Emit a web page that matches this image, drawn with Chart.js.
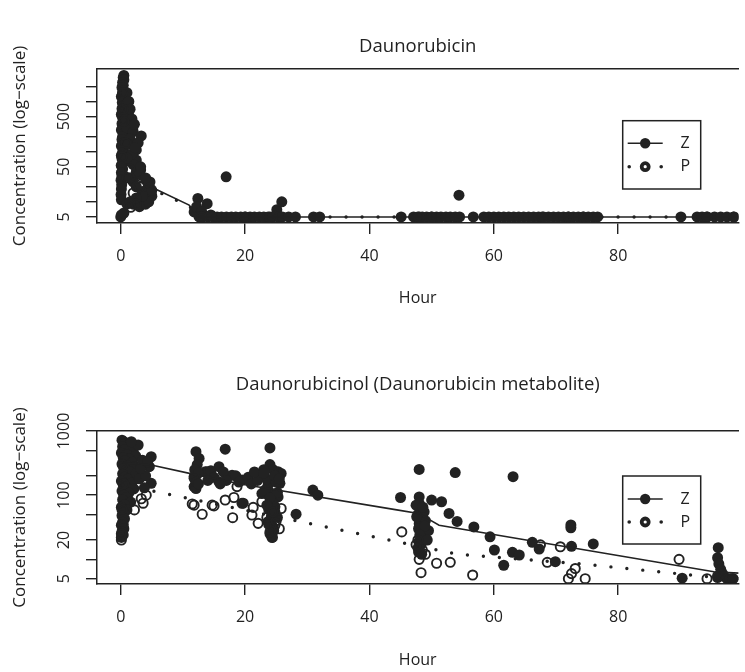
<!DOCTYPE html>
<html>
<head>
<meta charset="utf-8">
<script src="https://cdn.jsdelivr.net/npm/chart.js@4/dist/chart.umd.min.js"></script>
<style>
html, body { margin: 0; padding: 0; background: #fff; overflow: hidden; }
.panel { position: relative; width: 745px; height: 336px; }
</style>
</head>
<body>
<div class="panel"><canvas id="dauChart" width="745" height="336"></canvas></div>
<div class="panel"><canvas id="olChart" width="745" height="336"></canvas></div>
<script>
var ink = "#222222";
var fam = "'Open Sans', sans-serif";

// x axis
var hourTicks = [0, 20, 40, 60, 80];
var hourMin = -3.82, hourMax = 99.36;

// Daunorubicin (top)
var dauZHour = [0.5,0.4,0.5,0.3,0.4,0.2,0.5,0.3,0.1,0.4,0.25,0.5,0.2,0.6,0.1,0.3,0.5,0.2,0.4,0.1,
    0.6,0.3,0.2,0.5,0.1,0.4,0.3,0.1,0.2,0.5,0.08,0.3,0.1,0.2,0.05,0.15,0.1,0.05,0.1,0.0,0.1,
    1.0,1.2,0.8,1.5,1.0,2.0,1.5,3.3,1.2,2.5,2.5,1.8,3.2,2.0,1.0,3.0,4.0,2.5,4.8,4.5,
    4.9,3.5,2.0,1.5,3.0,4.0,2.5,5.0,1.0,0.5,
    1.0,1.3,1.5,1.8,2.2,2.8,2.3,2.0,3.0,4.0,4.5,3.5,2.5,1.5,5.0,4.7,4.0,3.2,
    11.8,12.4,13.9,12.2,13.0,14.5,16.95,25.1,25.9,54.4,
    12.6,13.2,14,14.8,15.5,16.2,17,17.8,18.5,19.3,20,20.8,21.5,22.3,23,23.7,24.5,25.3,26,27,28.1,31,32,
    45.1,47.1,47.8,48.5,49.2,50,50.8,51.5,52.3,53,53.8,54.5,56.7,58.4,59.2,60,60.8,61.6,62.4,63.2,64,64.8,
    65.6,66.4,67.2,68,68.8,69.6,70.4,71.2,72,72.8,73.6,74.4,75.2,76,76.7,90.1,92.7,93.5,94.3,95.5,96.5,97.5,98.6];
var dauZConc = [3300,3000,2700,2400,2100,1900,1650,1450,1250,1100,950,830,720,630,550,480,420,360,310,270,
    235,200,175,150,130,112,97,84,72,62,53,45,38,32,27,22,18,14,11,5,5.5,
    900,600,450,350,300,250,180,206,140,108,68,90,43,55,75,35,28,40,18,22,
    15,16,25,30,12,11,20,13,9,6,
    1500,1000,700,450,350,150,120,9,8,9,10,13,12,10,17,25,30,50,
    6.3,11.7,9.2,8,6.5,5.5,31.5,7,10,13.6,
    5,5,5,5,5,5,5,5,5,5,5,5,5,5,5,5,5,5,5,5,5,5,5,
    5,5,5,5,5,5,5,5,5,5,5,5,5,5,5,5,5,5,5,5,5,5,
    5,5,5,5,5,5,5,5,5,5,5,5,5,5,5,5,5,5,5,5,5,5,5];
var dauPHour = [1.6,0.3,0.5,0.2,1.0,2.0,0.8,3.0,2.5,0.4,1.5,13.0,20.0,24.0,48.0,50.0,67.8,72.0,74.4,94.3,98.6];
var dauPConc = [7.8,1500,400,80,30,15,150,20,9,700,45,5,5,5,5,5,5,5,5,5,5];
var dauZFitHour = [2, 5.4, 11, 12.5, 99.4];
var dauZFitConc = [30, 18.5, 8.6, 5, 5];
var dauPFitHour = [2, 5.4, 11, 12.5, 99.4];
var dauPFitConc = [28, 17, 8.3, 5, 5];
var dauTicks = [5, 10, 20, 50, 100, 200, 500, 1000, 2000];
var dauLabels = [5, 50, 500];

// Daunorubicinol (bottom)
var olZHour = [0.2,0.5,0.8,1.2,0.3,1.6,0.6,2.0,0.1,1.0, 2.4,0.4,1.4,0.7,1.9,0.2,1.1,2.2,0.5,0.9,
    1.6,0.3,2.5,0.6,1.2,0.1,1.8,0.4,0.8,2.1, 0.2,1.3,0.5,0.9,0.3,1.6,0.6,0.1,1.0,0.4,
    0.2,0.6,0.3,0.1,0.5,0.2,0.4,0.1,
    2.8,4.9,3.5,4.6,2.5,4.9,3.0,1.7,4.0,3.2,4.3,3.8,
    12.1,12.6,11.8,13.6,11.8,11.8,12.1,13.9,15.8,17.9,15.8,16.8,19.5,22.7,24.0,25.3,25.8,25.6,23.7,22.7,
    25.3,24.8,19.7,28.2,24.3,23.7,24.3,30.9,31.7,24.0,24.5,23.5,25.0,24.0,24.5,23.8,24.2,24.6,24.0,24.4,
    12.3,11.9,12.5,12.2,12.5,14.5,15.0,16.5,17.0,16.0,14.0,18.5,19.0,20.5,21.0,22.0,23.0,21.5,
    23.0,24.8,25.5,23.2,25.2,24.0,23.5,24.8,25.2,23.8,24.6,
    48.0,53.8,63.1,45.0,48.0,50.0,51.6,52.8,54.1,56.8,59.4,60.1,61.6,63.0,64.1,66.2,67.3,69.9,72.4,72.4,
    72.5,76.0,90.3,48.0,48.2,47.8,48.3,48.0,47.9,48.2,48.5,48.0,48.3,47.8,49.0,49.5,48.8,47.5,96.1,96.0,
    96.2,96.5,96.8,97.0,97.5,98.0,98.5,96.0,
    48.6,47.6,48.9,48.1,49.3,47.9,48.4];
var olZConc = [720,680,640,600,570,540,510,480,455,430, 410,385,365,345,325,305,290,275,260,245,
    230,215,200,190,178,166,155,145,135,125, 116,108,100,92,85,78,71,65,59,53,
    48,43,38,34,30,27,24,22,
    605,397,350,278,220,153,180,680,200,260,330,130,
    477,374,195,232,136,183,127,232,278,205,162,520,172,194,545,232,218,153,143,106,
    94,66,75,50.5,49.3,38.6,34,120,100,300,250,180,160,110,75,60,45,30,25,22,
    300,250,220,160,150,240,190,230,170,150,170,200,160,190,150,170,250,230,
    220,200,180,120,110,90,70,55,45,35,28,
    252,225,194,92,94,84,79,52,39,32,22.5,14,8.1,12.9,11.7,18.4,14.5,9.2,34.3,31,
    16,17.4,5.1,75,60,50,42,36,30,26,22,19,17,15,40,28,55,70,15.2,10.6,
    8.5,7,6,5.5,5,5,5,5.2,
    65,46,33,24,20,13,12];
var olPHour = [0.1,4.1,3.6,2.2,3.3,0.3,0.5,0.2,0.4,0.1,
    11.8,13.1,15.0,16.8,18.2,18.0,18.7,21.3,22.1,24.3,25.8,11.5,14.7,19.5,22.7,21.1,24.0,24.8,23.5,25.0,24.5,25.5,
    45.2,48.3,50.8,53.0,56.6,47.8,48.5,48.0,49.0,47.5,
    67.5,68.6,70.7,73.1,72.0,74.7,72.5,
    89.8,94.3,98.4,96.0];
var olPConc = [20,100,75,59,88,300,150,60,35,25,
    70,50.5,68,84,92,44.6,136,64.5,36.4,22.1,62,73,70,75,79,49,26.8,34,45,40,55,30,
    26.8,6.2,8.7,9,5.7,20,14,10,12,17,
    16.8,9,15.7,7.2,5,5,6,
    10,5,5,5.5];
var olZFitHour = [0.3, 4.9, 11.8, 19.5, 44.4, 47.9, 51.2, 95.4, 99.4];
var olZFitConc = [320, 295, 211, 148, 59, 52, 34, 6.4, 6.1];
var olPFitHour = [0.3, 5.8, 54, 74.6, 93.3, 99.4];
var olPFitConc = [146, 113, 12.1, 8.4, 5.5, 5.0];
var olTicks = [5, 10, 20, 50, 100, 200, 500, 1000];
var olLabels = [5, 20, 100, 1000];

var pts = function (h, c) {
    return h.map(function (v, i) { return {x: v, y: c[i]}; });
};

// legend box drawn inside the plot, like R's legend()
var legendBox = {
    id: "legendBox",
    afterDraw: function (chart, args, o) {
        var ctx = chart.ctx;
        ctx.save();
        ctx.strokeStyle = ink;
        ctx.fillStyle = ink;
        ctx.lineWidth = 1.5;
        ctx.strokeRect(o.left, o.top, o.width, o.height);
        var sx = o.left + 5, ex = o.left + 40, mx = o.left + 22.5;
        // Z: solid line + filled dot
        ctx.lineWidth = 1.6;
        ctx.beginPath(); ctx.moveTo(sx, o.rowZ); ctx.lineTo(ex, o.rowZ); ctx.stroke();
        ctx.beginPath(); ctx.arc(mx, o.rowZ, 5.2, 0, Math.PI * 2); ctx.fill();
        // P: dotted line + thick ring
        [sx + 1.5, ex - 1.5].forEach(function (x) {
            ctx.beginPath(); ctx.arc(x, o.rowP, 1.8, 0, Math.PI * 2); ctx.fill();
        });
        ctx.lineWidth = 3.8;
        ctx.beginPath(); ctx.arc(mx, o.rowP, 3.5, 0, Math.PI * 2); ctx.stroke();
        ctx.font = "16px " + fam;
        ctx.textAlign = "center";
        ctx.textBaseline = "middle";
        ctx.fillText("Z", o.left + 62.5, o.rowZ);
        ctx.fillText("P", o.left + 62.5, o.rowP);
        ctx.restore();
    }
};

var makeChart = function (id, cfg) {
    var datasets = [
        {label: "Z fit", data: pts(cfg.zFitHour, cfg.zFitConc), showLine: true, pointRadius: 0,
         borderColor: ink, borderWidth: 1.6, order: 0},
        {label: "P fit", data: pts(cfg.pFitHour, cfg.pFitConc), showLine: true, pointRadius: 0,
         borderColor: ink, borderWidth: 3.4, borderDash: [0, 16], borderCapStyle: "round", order: 0},
        {label: "P", data: pts(cfg.pHour, cfg.pConc), pointRadius: 4.6, pointBorderWidth: 1.9,
         pointBorderColor: ink, pointBackgroundColor: "rgba(0,0,0,0)", order: 1},
        {label: "Z", data: pts(cfg.zHour, cfg.zConc), pointRadius: 5.5, pointBorderWidth: 0,
         pointBorderColor: ink, pointBackgroundColor: ink, order: 2}
    ];
    return new Chart(document.getElementById(id), {
        type: "scatter",
        data: {datasets: datasets},
        plugins: [legendBox],
        options: {
            responsive: false,
            animation: false,
            devicePixelRatio: 1,
            layout: {padding: 0},
            plugins: {
                legend: {display: false},
                tooltip: {enabled: false},
                legendBox: cfg.legend
            },
            scales: {
                x: {
                    type: "linear", position: "bottom", min: hourMin, max: hourMax,
                    afterBuildTicks: function (s) { s.ticks = hourTicks.map(function (v) { return {value: v}; }); },
                    afterFit: function (s) { s.height = 336 - cfg.bottom; },
                    grid: {display: true, drawOnChartArea: false, drawTicks: true, tickLength: 11, color: ink, lineWidth: 1.4},
                    border: {display: true, color: ink, width: 1.5},
                    ticks: {color: ink, font: {family: fam, size: 16}, padding: 13, maxRotation: 0, autoSkip: false},
                    title: {display: true, text: "Hour", color: ink, font: {family: fam, size: 16},
                            padding: {top: 0, bottom: 336 - cfg.hourY - 9.6}}
                },
                head: {
                    type: "linear", position: "top", axis: "x",
                    afterFit: function (s) { s.height = cfg.top; },
                    grid: {display: false},
                    border: {display: true, color: ink, width: 1.5},
                    ticks: {display: false},
                    title: {display: true, text: cfg.title, color: ink, font: {family: fam, size: 18.5},
                            padding: {top: cfg.titleY - 11.1, bottom: 0}}
                },
                y: {
                    type: "logarithmic", position: "left", min: cfg.yMin, max: cfg.yMax,
                    afterBuildTicks: function (s) { s.ticks = cfg.yTicks.map(function (v) { return {value: v}; }); },
                    afterFit: function (s) { s.width = 97; },
                    grid: {display: true, drawOnChartArea: false, drawTicks: true, tickLength: 11, color: ink, lineWidth: 1.4},
                    border: {display: true, color: ink, width: 1.5},
                    ticks: {color: ink, font: {family: fam, size: 16}, padding: cfg.yPad, minRotation: 90, maxRotation: 90,
                            crossAlign: "center", autoSkip: false,
                            callback: function (v) { return cfg.yLabels.indexOf(v) >= 0 ? String(v) : ""; }},
                    title: {display: true, text: "Concentration (log\u2212scale)", color: ink, font: {family: fam, size: 17},
                            padding: {top: 10, bottom: 0}}
                }
            }
        }
    });
};

makeChart("dauChart", {
    title: "Daunorubicin", top: 69, bottom: 223, titleY: 47, hourY: 298,
    yMin: 3.79, yMax: 4436, yTicks: dauTicks, yLabels: dauLabels, yPad: 7.5,
    zHour: dauZHour, zConc: dauZConc, pHour: dauPHour, pConc: dauPConc,
    zFitHour: dauZFitHour, zFitConc: dauZFitConc, pFitHour: dauPFitHour, pFitConc: dauPFitConc,
    legend: {left: 622.7, top: 120.7, width: 78, height: 68.3, rowZ: 143.3, rowP: 166.7}
});

makeChart("olChart", {
    title: "Daunorubicinol (Daunorubicin metabolite)", top: 95, bottom: 248, titleY: 49, hourY: 324,
    yMin: 4.133, yMax: 1000, yTicks: olTicks, yLabels: olLabels, yPad: 3,
    zHour: olZHour, zConc: olZConc, pHour: olPHour, pConc: olPConc,
    zFitHour: olZFitHour, zFitConc: olZFitConc, pFitHour: olPFitHour, pFitConc: olPFitConc,
    legend: {left: 622.7, top: 140, width: 78, height: 68, rowZ: 163, rowP: 186}
});
</script>
</body>
</html>
